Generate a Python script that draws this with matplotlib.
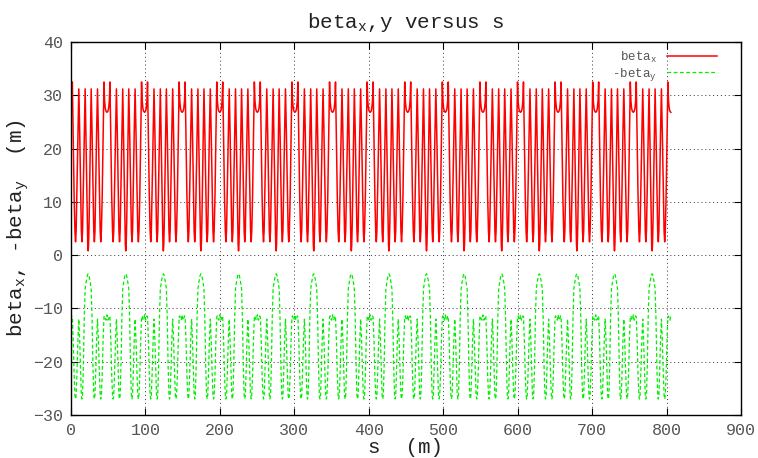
import numpy as np
import matplotlib
matplotlib.use("Agg")
from matplotlib import pyplot as plt

cell_len = 50.5
cell_count = 16
s_offset = -2.2

u_half = [0.0, 1.2, 2.2, 3.2, 4.0, 5.2, 6.4, 7.5, 8.3, 9.1, 10.2, 11.5, 12.7,
          13.9, 15.1, 16.1, 16.9, 17.7, 18.8, 20.0, 21.2, 22.6, 24.0, 24.7, 25.25]
betax_half = [26.8, 27.0, 27.5, 29.0, 32.5, 22.0, 11.0, 4.5, 2.5, 4.5, 13.0, 23.0, 31.2,
              23.0, 13.0, 4.5, 2.5, 4.5, 13.0, 23.0, 31.2, 19.0, 6.0, 2.0, 0.8]
mbetay_half = [-11.2, -12.2, -12.0, -11.4, -11.6, -16.0, -22.5, -26.3, -27.0, -26.3, -22.0, -16.0, -12.0,
               -16.0, -22.0, -26.3, -27.0, -26.3, -21.0, -12.0, -6.3, -5.0, -3.9, -3.6, -3.5]

xticks = [0, 100, 200, 300, 400, 500, 600, 700, 800, 900]
yticks = [-30, -20, -10, 0, 10, 20, 30, 40]

# mirror the half cell, then repeat it along the ring
u_cell = np.array(u_half + [cell_len - u for u in u_half[-2::-1]])
bx_cell = np.array(betax_half + betax_half[-2::-1])
by_cell = np.array(mbetay_half + mbetay_half[-2::-1])

s_all, bx_all, by_all = [], [], []
for k in range(cell_count):
    s = u_cell + k * cell_len + s_offset
    keep = s >= 0
    if k > 0:
        keep &= u_cell > 0
    s_all.append(s[keep]); bx_all.append(bx_cell[keep]); by_all.append(by_cell[keep])
s_all = np.concatenate(s_all)
bx_all = np.concatenate(bx_all)
by_all = np.concatenate(by_all)

plt.rcParams['font.family'] = ['Liberation Mono', 'DejaVu Sans']
plt.rcParams['mathtext.fontset'] = 'custom'
plt.rcParams['mathtext.rm'] = 'Liberation Mono'
plt.rcParams['mathtext.it'] = 'Liberation Mono'

fig = plt.figure(figsize=(7.58, 4.58), dpi=100)
ax = fig.add_axes([71/758, 43/458, 670/758, 373/458])

ax.plot(s_all, bx_all, color='#ff0000', lw=1.1, label=r'beta$_\mathrm{x}$')
ax.plot(s_all, by_all, color='#00ee00', lw=0.9, dashes=(3, 2), label=r'-beta$_\mathrm{y}$')

ax.set_xlim(0, 900)
ax.set_ylim(-30, 40)
ax.set_xticks(xticks)
ax.set_yticks(yticks)
ax.tick_params(direction='in', length=5, width=0.8, top=True, right=True,
               labelsize=12, labelcolor='#555555', pad=6)
ax.grid(True, color='#333333', linestyle=(0, (1, 3)), lw=0.7)
for sp in ax.spines.values():
    sp.set_linewidth(1.0)

ax.set_title(r'beta$_\mathrm{x}$,y versus s', fontsize=15, pad=10, color='#222222')
ax.set_xlabel(r's  (m)', fontsize=15, labelpad=0, color='#222222')
ax.set_ylabel(r'beta$_\mathrm{x}$, -beta$_\mathrm{y}$  (m)', fontsize=15, labelpad=1, color='#222222')

leg = ax.legend(loc='upper right', bbox_to_anchor=(0.975, 1.0), frameon=False,
                markerfirst=False, fontsize=9, handlelength=4, labelspacing=0.1,
                borderaxespad=0.2)
for t in leg.get_texts():
    t.set_color('#555555')

fig.savefig('out.png', dpi=100)
